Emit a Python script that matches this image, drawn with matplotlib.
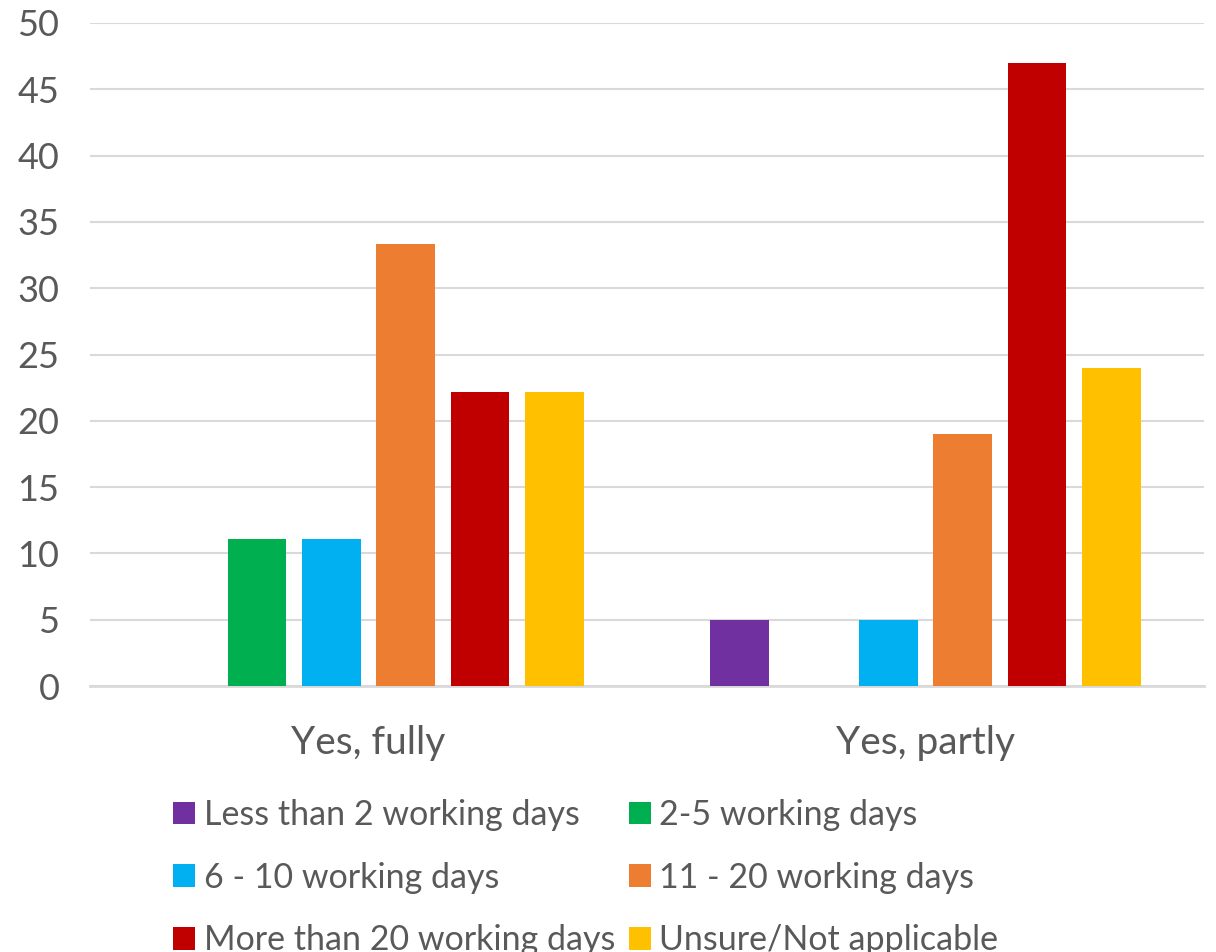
import numpy as np
import matplotlib
matplotlib.use("Agg")
from matplotlib import pyplot as plt

plt.rcParams['font.family'] = ['Lato', 'DejaVu Sans']

groups = ['Yes, fully', 'Yes, partly']
series = ['Less than 2 working days', '2-5 working days', '6 - 10 working days',
          '11 - 20 working days', 'More than 20 working days', 'Unsure/Not applicable']
less_than_2 = [0, 5]
days_2_5 = [11.1, 0]
days_6_10 = [11.1, 5]
days_11_20 = [33.3, 19]
more_than_20 = [22.2, 47]
unsure = [22.2, 24]
colors = ['#7030A0', '#00B050', '#00B0F0', '#ED7D31', '#C00000', '#FFC000']

values = [less_than_2, days_2_5, days_6_10, days_11_20, more_than_20, unsure]
grey = '#595959'

fig = plt.figure(figsize=(12.16, 9.52), dpi=100)
ax = fig.add_axes([90 / 1216, 1 - 686 / 952, 1114 / 1216, 663 / 952])

x = np.arange(len(groups))
step = 0.1334
width = 0.105
for i, (name, vals, c) in enumerate(zip(series, values, colors)):
    ax.bar(x + (i - 2.5) * step, vals, width, color=c, label=name, zorder=3)

ax.set_xlim(-0.5, 1.5)
ax.set_ylim(0, 50)
ax.set_yticks(np.arange(0, 51, 5))
ax.set_xticks(x)
ax.set_xticklabels(groups, fontsize=28, color=grey)
ax.tick_params(axis='y', labelsize=26, labelcolor=grey, length=0, pad=22)
ax.tick_params(axis='x', length=0, pad=28)
ax.grid(axis='y', color='#D9D9D9', linewidth=1.5, zorder=0)
for s in ['top', 'right', 'left']:
    ax.spines[s].set_visible(False)
ax.spines['bottom'].set_color('#D9D9D9')
ax.spines['bottom'].set_linewidth(2)

# legend fills row by row: reorder for matplotlib's column-first layout
handles, labels = ax.get_legend_handles_labels()
order = [0, 2, 4, 1, 3, 5]
fig.legend([handles[i] for i in order], [labels[i] for i in order], ncol=2,
           loc='upper left', bbox_to_anchor=(156 / 1216, 1 - 782 / 952),
           frameon=False, fontsize=24.5, labelcolor=grey, handlelength=0.65, handleheight=0.65,
           handletextpad=0.25, columnspacing=0.4, labelspacing=0.9, borderpad=0)

fig.savefig('out.png', dpi=100)
